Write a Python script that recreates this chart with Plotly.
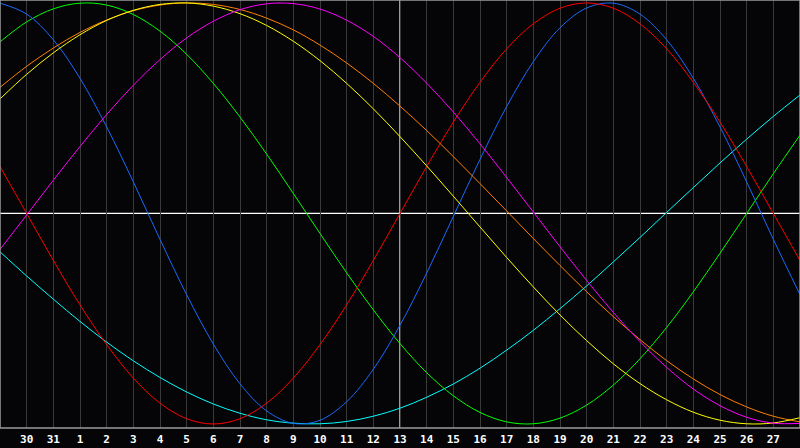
import plotly.graph_objects as go

# day index 0..30, one vertical grid line per day, labels on days 1..29
days = list(range(31))
tick_days = list(range(1, 30))
date_labels = ['30', '31', '1', '2', '3', '4', '5', '6', '7', '8', '9', '10', '11', '12', '13',
               '14', '15', '16', '17', '18', '19', '20', '21', '22', '23', '24', '25', '26', '27']
today = 15

# curve values, one per day (-1 .. 1)
physical = [0.999, 0.947, 0.825, 0.642, 0.411, 0.15, -0.123, -0.386, -0.62, -0.809, -0.938,
            -0.997, -0.982, -0.894, -0.74, -0.531, -0.283, -0.014, 0.257, 0.508, 0.721, 0.882,
            0.976, 0.999, 0.947, 0.825, 0.642, 0.411, 0.15, -0.123, -0.386]
emotional = [0.223, 0.0, -0.223, -0.434, -0.623, -0.782, -0.901, -0.975, -1.0, -0.975, -0.901,
             -0.782, -0.623, -0.434, -0.223, 0.0, 0.223, 0.434, 0.623, 0.782, 0.901, 0.975,
             1.0, 0.975, 0.901, 0.782, 0.623, 0.434, 0.223, 0.0, -0.223]
intellectual = [0.815, 0.910, 0.972, 0.999, 0.990, 0.945, 0.866, 0.756, 0.618, 0.458, 0.282,
                0.095, -0.095, -0.282, -0.458, -0.618, -0.756, -0.866, -0.945, -0.990, -0.999,
                -0.972, -0.910, -0.815, -0.690, -0.541, -0.372, -0.189, 0.0, 0.189, 0.372]
intuitive = [-0.171, -0.007, 0.158, 0.318, 0.47, 0.609, 0.731, 0.834, 0.913, 0.968, 0.996,
             0.997, 0.971, 0.918, 0.841, 0.74, 0.619, 0.482, 0.331, 0.171, 0.007, -0.158,
             -0.318, -0.47, -0.609, -0.731, -0.834, -0.913, -0.968, -0.996, -0.997]
aesthetic = [0.544, 0.661, 0.763, 0.849, 0.917, 0.965, 0.993, 1.0, 0.985, 0.949, 0.893, 0.818,
             0.726, 0.618, 0.497, 0.365, 0.226, 0.082, -0.064, -0.209, -0.349, -0.482, -0.604,
             -0.714, -0.808, -0.885, -0.944, -0.982, -0.999, -0.995, -0.97]
awareness = [0.599, 0.699, 0.786, 0.86, 0.919, 0.963, 0.99, 1.0, 0.993, 0.969, 0.928, 0.872,
             0.8, 0.715, 0.618, 0.51, 0.394, 0.27, 0.142, 0.012, -0.119, -0.247, -0.372, -0.49,
             -0.599, -0.699, -0.786, -0.86, -0.919, -0.963, -0.99]
spiritual = [-0.182, -0.297, -0.407, -0.513, -0.611, -0.700, -0.779, -0.848, -0.905, -0.949,
             -0.980, -0.996, -0.999, -0.988, -0.963, -0.925, -0.873, -0.810, -0.735, -0.649,
             -0.555, -0.452, -0.344, -0.230, -0.114, 0.005, 0.123, 0.240, 0.353, 0.461, 0.563]

series = [
    ('Spiritual', spiritual, '#00ffff'),
    ('Intellectual', intellectual, '#00ff00'),
    ('Physical', physical, '#1a6aff'),
    ('Emotional', emotional, '#ff0000'),
    ('Awareness', awareness, '#ff8000'),
    ('Aesthetic', aesthetic, '#ffff00'),
    ('Intuitive', intuitive, '#ff00ff'),
]

fig = go.Figure()
for name, vals, col in series:
    fig.add_trace(go.Scatter(x=days, y=vals, mode='lines', name=name,
                             line=dict(color=col, width=1, shape='spline')))

# today marker and zero line
fig.add_shape(type='line', x0=today, x1=today, y0=0, y1=1, xref='x', yref='paper',
              line=dict(color='white', width=1.2), layer='below')
fig.add_shape(type='line', x0=0, x1=1, y0=0, y1=0, xref='paper', yref='y',
              line=dict(color='white', width=1.2), layer='below')
# frame
fig.add_shape(type='rect', x0=0, x1=1, y0=0, y1=1, xref='paper', yref='paper',
              line=dict(color='#9a9a9a', width=1.5))

fig.update_layout(
    width=800, height=448,
    margin=dict(l=0, r=0, t=0, b=20),
    paper_bgcolor='#050507', plot_bgcolor='#050507',
    showlegend=False,
    xaxis=dict(range=[0, 30], tickvals=tick_days, ticktext=date_labels,
               showgrid=True, gridcolor='#3a3a3a', gridwidth=1, zeroline=False,
               tickfont=dict(family='DejaVu Sans Mono', size=11, color='white', weight='bold'),
               ticks='', ticklabelstandoff=3, fixedrange=True),
    yaxis=dict(range=[-1.019, 1.014], showgrid=False, zeroline=False,
               showticklabels=False, fixedrange=True),
)

# the page's default body margin would push the chart 8px off
fig.write_html("out.html", config={'displayModeBar': False},
               post_script="document.body.style.margin='0';document.body.style.background='#050507';")
